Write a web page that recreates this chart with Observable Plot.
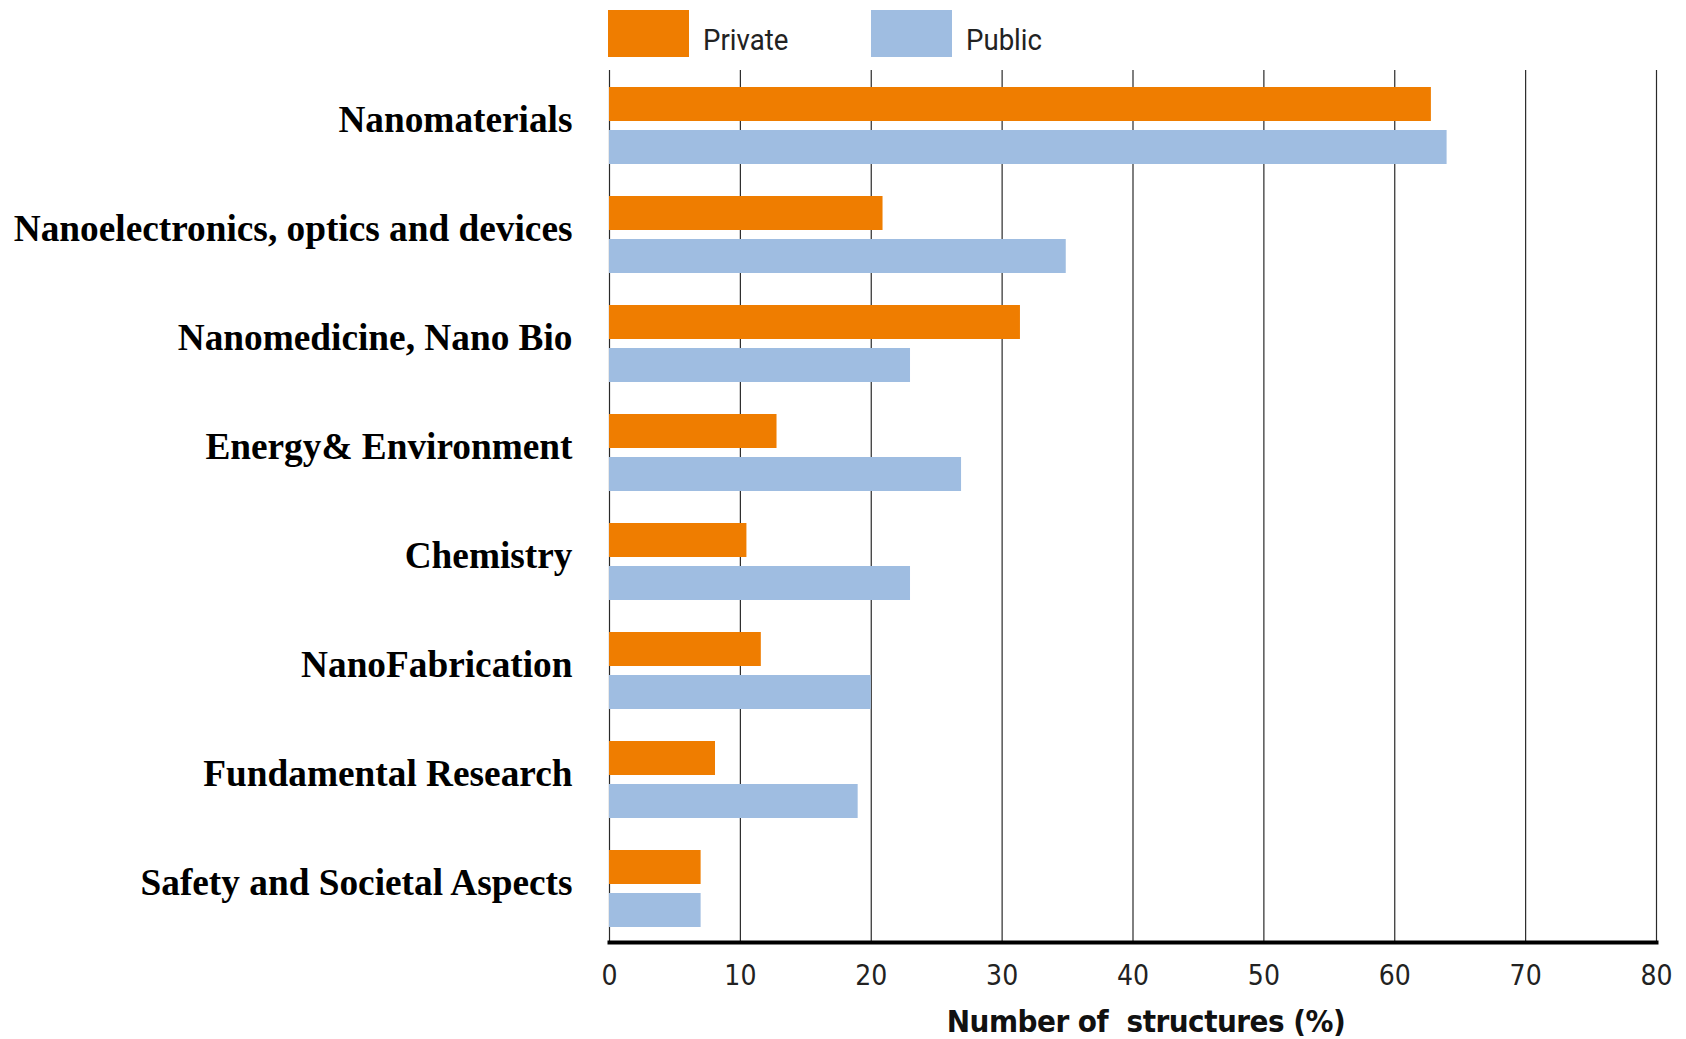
<!DOCTYPE html>
<html>
<head>
<meta charset="utf-8">
<script src="https://cdn.jsdelivr.net/npm/d3@7"></script>
<script src="https://cdn.jsdelivr.net/npm/@observablehq/plot@0.6"></script>
<style>
  html, body { margin: 0; padding: 0; background: #fff; }
  #wrap { position: relative; width: 1686px; height: 1039px; overflow: hidden; }
  #legend { height: 60px; display: flex; align-items: flex-start; padding-left: 608px; box-sizing: border-box; padding-top: 10px; }
  .item { display: flex; align-items: flex-start; width: 263px; }
  .sw { width: 81px; height: 47px; margin-right: 14px; flex: none; }
  .lt { font-family: Roboto, "DejaVu Sans", sans-serif; font-size: 30px; line-height: 30px; margin-top: 15px; color: #222; transform: scaleX(0.92); transform-origin: left center; white-space: nowrap; }
  #title { text-align: center; width: 1686px; box-sizing: border-box; padding-left: 606px; font-family: "DejaVu Sans Condensed", "Liberation Sans Narrow", Roboto, sans-serif; font-weight: bold; font-size: 31px; letter-spacing: -0.5px; color: #111; white-space: pre; line-height: 43px; }
</style>
</head>
<body>
<div id="wrap">
  <div id="legend"></div>
  <div id="chart"></div>
  <div id="title"></div>
</div>
<script>
const categories = [
  "Nanomaterials",
  "Nanoelectronics, optics and devices",
  "Nanomedicine, Nano Bio",
  "Energy& Environment",
  "Chemistry",
  "NanoFabrication",
  "Fundamental Research",
  "Safety and Societal Aspects"
];
const privateValues = [62.8, 20.9, 31.4, 12.8, 10.5, 11.6, 8.1, 7.0];
const publicValues  = [64.0, 34.9, 23.0, 26.9, 23.0, 20.0, 19.0, 7.0];
const series = ["Private", "Public"];
const seriesColors = ["#EF7D00", "#9FBDE1"];
const xTicks = [0, 10, 20, 30, 40, 50, 60, 70, 80];
const xLabel = "Number of  structures (%)";

const data = categories.flatMap((c, i) => [
  {category: c, series: "Private", value: privateValues[i]},
  {category: c, series: "Public", value: publicValues[i]}
]);

// Legend
const legend = d3.select("#legend");
series.forEach((s, i) => {
  const item = legend.append("div").attr("class", "item");
  item.append("div").attr("class", "sw").style("background", seriesColors[i]);
  item.append("div").attr("class", "lt").text(s);
});

const chart = Plot.plot({
  width: 1686,
  height: 940,
  marginLeft: 609,
  marginRight: 30,
  marginTop: 8,
  marginBottom: 56,
  style: {background: "#fff", fontFamily: "'DejaVu Sans Condensed', 'Liberation Sans Narrow', Roboto, sans-serif"},
  x: {domain: [0, 80]},
  y: {domain: series, paddingInner: 0.207, paddingOuter: 0.362, align: 0.52, axis: null},
  fy: {domain: categories, padding: 0, axis: null},
  color: {domain: series, range: seriesColors},
  facet: {data, y: "category"},
  marks: [
    Plot.ruleX(xTicks, {stroke: "#2a2a2a", strokeWidth: 1.2}),
    Plot.barX(data, {x: "value", y: "series", fill: "series"}),
    Plot.frame({anchor: "bottom", facetAnchor: "bottom", stroke: "#000", strokeWidth: 4}),
    Plot.axisX({ticks: xTicks, tickSize: 0, tickPadding: 23, fontSize: 28, fill: "#222", label: null}),
    Plot.text(data, {
      filter: d => d.series === "Private",
      text: "category",
      frameAnchor: "left",
      textAnchor: "end",
      dx: -37,
      dy: -5,
      fontFamily: "'Liberation Serif', 'Times New Roman', serif",
      fontWeight: "bold",
      fontSize: 37.3,
      fill: "#000"
    })
  ]
});
document.getElementById("chart").appendChild(chart);
document.getElementById("title").textContent = xLabel;
</script>
</body>
</html>
